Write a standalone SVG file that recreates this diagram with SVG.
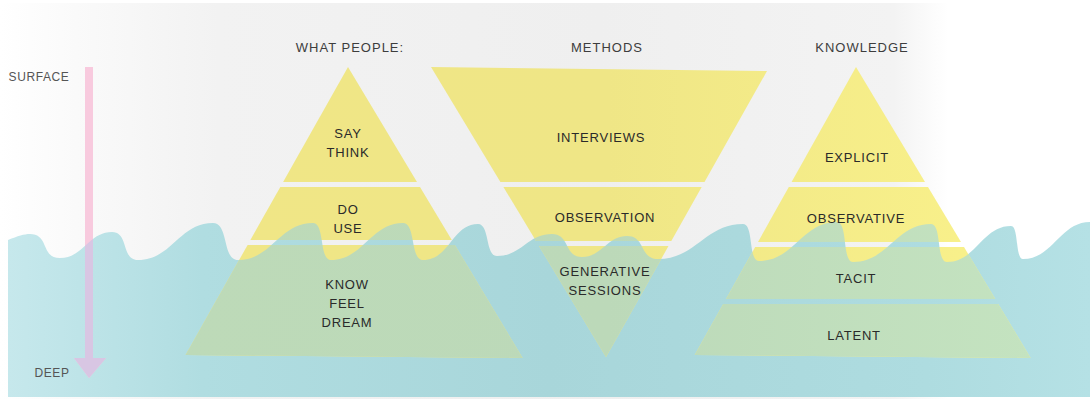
<svg xmlns="http://www.w3.org/2000/svg" width="1090" height="399" viewBox="0 0 1090 399">
  <style>
    .head { font-family: "Liberation Sans", Arial, sans-serif; font-size: 13px; fill: #3d3d3d; letter-spacing: 1px; text-anchor: middle; }
    .lbl { font-family: "Liberation Sans", Arial, sans-serif; font-size: 13px; fill: #2a2a2a; letter-spacing: 0.8px; text-anchor: middle; }
    .axis { font-family: "Liberation Sans", Arial, sans-serif; font-size: 12px; fill: #555555; letter-spacing: 0.6px; text-anchor: middle; }
    .yel { fill: url(#gYellow); }
    .grn { fill: url(#gGreen); }
  </style>
  <defs>
    <linearGradient id="gBg" gradientUnits="userSpaceOnUse" x1="0" y1="0" x2="1090" y2="0">
      <stop offset="0" stop-color="#ffffff"/>
      <stop offset="0.07" stop-color="#fafafa"/>
      <stop offset="0.2" stop-color="#f2f2f2"/>
      <stop offset="0.55" stop-color="#efefef"/>
      <stop offset="0.82" stop-color="#f3f3f3"/>
      <stop offset="0.87" stop-color="#ffffff"/>
      <stop offset="1" stop-color="#ffffff"/>
    </linearGradient>
    <linearGradient id="gYellow" gradientUnits="userSpaceOnUse" x1="180" y1="0" x2="1035" y2="0">
      <stop offset="0" stop-color="#f0e686"/>
      <stop offset="0.5" stop-color="#efe686"/>
      <stop offset="1" stop-color="#faf28b"/>
    </linearGradient>
    <linearGradient id="gGreen" gradientUnits="userSpaceOnUse" x1="180" y1="0" x2="1035" y2="0">
      <stop offset="0" stop-color="#bddab8"/>
      <stop offset="0.5" stop-color="#bcd9b9"/>
      <stop offset="1" stop-color="#c4e3c0"/>
    </linearGradient>
    <linearGradient id="gWater" gradientUnits="userSpaceOnUse" x1="8" y1="0" x2="1090" y2="0">
      <stop offset="0" stop-color="#c6e8ec"/>
      <stop offset="0.18" stop-color="#b0dde1"/>
      <stop offset="0.5" stop-color="#a8d6da"/>
      <stop offset="0.85" stop-color="#aedce0"/>
      <stop offset="1" stop-color="#b5e1e5"/>
    </linearGradient>
    <path id="water-shape" d="M8,240 C18,236 24,234 30,234 C49.5,234 40.5,258 60,258 C83.4,258 88.6,232 112,232 C129,232 121,260 138,260 C172,260 179,223 213,223 C229,223 222,260 238,260 C272,260 279,223 313,223 C325,223 319,260 331,260 C363,260 371,223 403,223 C416,223 410,260 423,260 C450,260 452,224 478,224 C490,224 485,256 497,256 C522,256 527,234 552,234 C570,234 564,257 582,257 C602,257 607,236 627,236 C646,236 639,259 658,259 C696,259 705,224 743,224 C754,224 748,261 759,261 C794,261 802,222 837,222 C848,222 842,262 853,262 C888,262 896,224 931,224 C942,224 936,262 947,262 C976,262 982,226 1011,226 C1019,226 1015,259 1023,259 C1053,259 1060,222 1090,222 L1090,397 L8,397 Z"/>
    <clipPath id="wclip">
      <use href="#water-shape"/>
    </clipPath>
    <g id="lp-shape">
      <polygon points="348,67 417,182 283.1,182"/>
      <polygon points="280.3,187 420,187 451.8,240 250.4,240"/>
      <polygon points="247.6,245 454.8,245 522.6,358 185.6,355"/>
    </g>
    <g id="mt-shape">
      <polygon points="431,67 767,71 704.5,182 500.4,182"/>
      <polygon points="503.4,187 701.7,187 671.3,241 536,241"/>
      <polygon points="539,246 668.5,246 606,357"/>
    </g>
    <g id="kn-shape">
      <polygon points="856,67 925,182 791.6,182"/>
      <polygon points="788.8,187 928,187 961,242 758,242"/>
      <polygon points="755.2,247 964,247 995.2,299 726.1,299"/>
      <polygon points="723.3,304 998.2,304 1030.6,358 694.7,355"/>
    </g>
    <path id="arrow-shape" d="M85,67 L93,67 L93,358 L106,358 L89,378 L74,358 L85,358 Z"/>
  </defs>

  <rect x="0" y="3" width="1090" height="396" fill="url(#gBg)"/>
  <use href="#water-shape" fill="url(#gWater)"/>

  <g id="what-people">
    <use href="#lp-shape" class="yel"/>
    <use href="#lp-shape" class="grn" clip-path="url(#wclip)"/>
    <text class="head" x="350" y="52">WHAT PEOPLE:</text>
    <text class="lbl" x="348" y="138">SAY</text>
    <text class="lbl" x="348" y="157">THINK</text>
    <text class="lbl" x="348" y="214">DO</text>
    <text class="lbl" x="348" y="233">USE</text>
    <text class="lbl" x="347" y="289">KNOW</text>
    <text class="lbl" x="347" y="308">FEEL</text>
    <text class="lbl" x="347" y="327">DREAM</text>
  </g>

  <g id="methods">
    <use href="#mt-shape" class="yel"/>
    <use href="#mt-shape" class="grn" clip-path="url(#wclip)"/>
    <text class="head" x="607" y="52">METHODS</text>
    <text class="lbl" x="601" y="142">INTERVIEWS</text>
    <text class="lbl" x="605" y="222">OBSERVATION</text>
    <text class="lbl" x="605" y="276">GENERATIVE</text>
    <text class="lbl" x="605" y="295">SESSIONS</text>
  </g>

  <g id="knowledge">
    <use href="#kn-shape" class="yel"/>
    <use href="#kn-shape" class="grn" clip-path="url(#wclip)"/>
    <text class="head" x="862" y="52">KNOWLEDGE</text>
    <text class="lbl" x="857" y="162">EXPLICIT</text>
    <text class="lbl" x="856" y="223">OBSERVATIVE</text>
    <text class="lbl" x="856" y="283">TACIT</text>
    <text class="lbl" x="854" y="340">LATENT</text>
  </g>

  <g id="connectors">
    <use href="#arrow-shape" fill="#f8cade"/>
    <use href="#arrow-shape" fill="#d8c6e3" clip-path="url(#wclip)"/>
  </g>

  <g id="depth-axis">
    <text class="axis" x="39" y="81">SURFACE</text>
    <text class="axis" x="52" y="377">DEEP</text>
  </g>
</svg>
